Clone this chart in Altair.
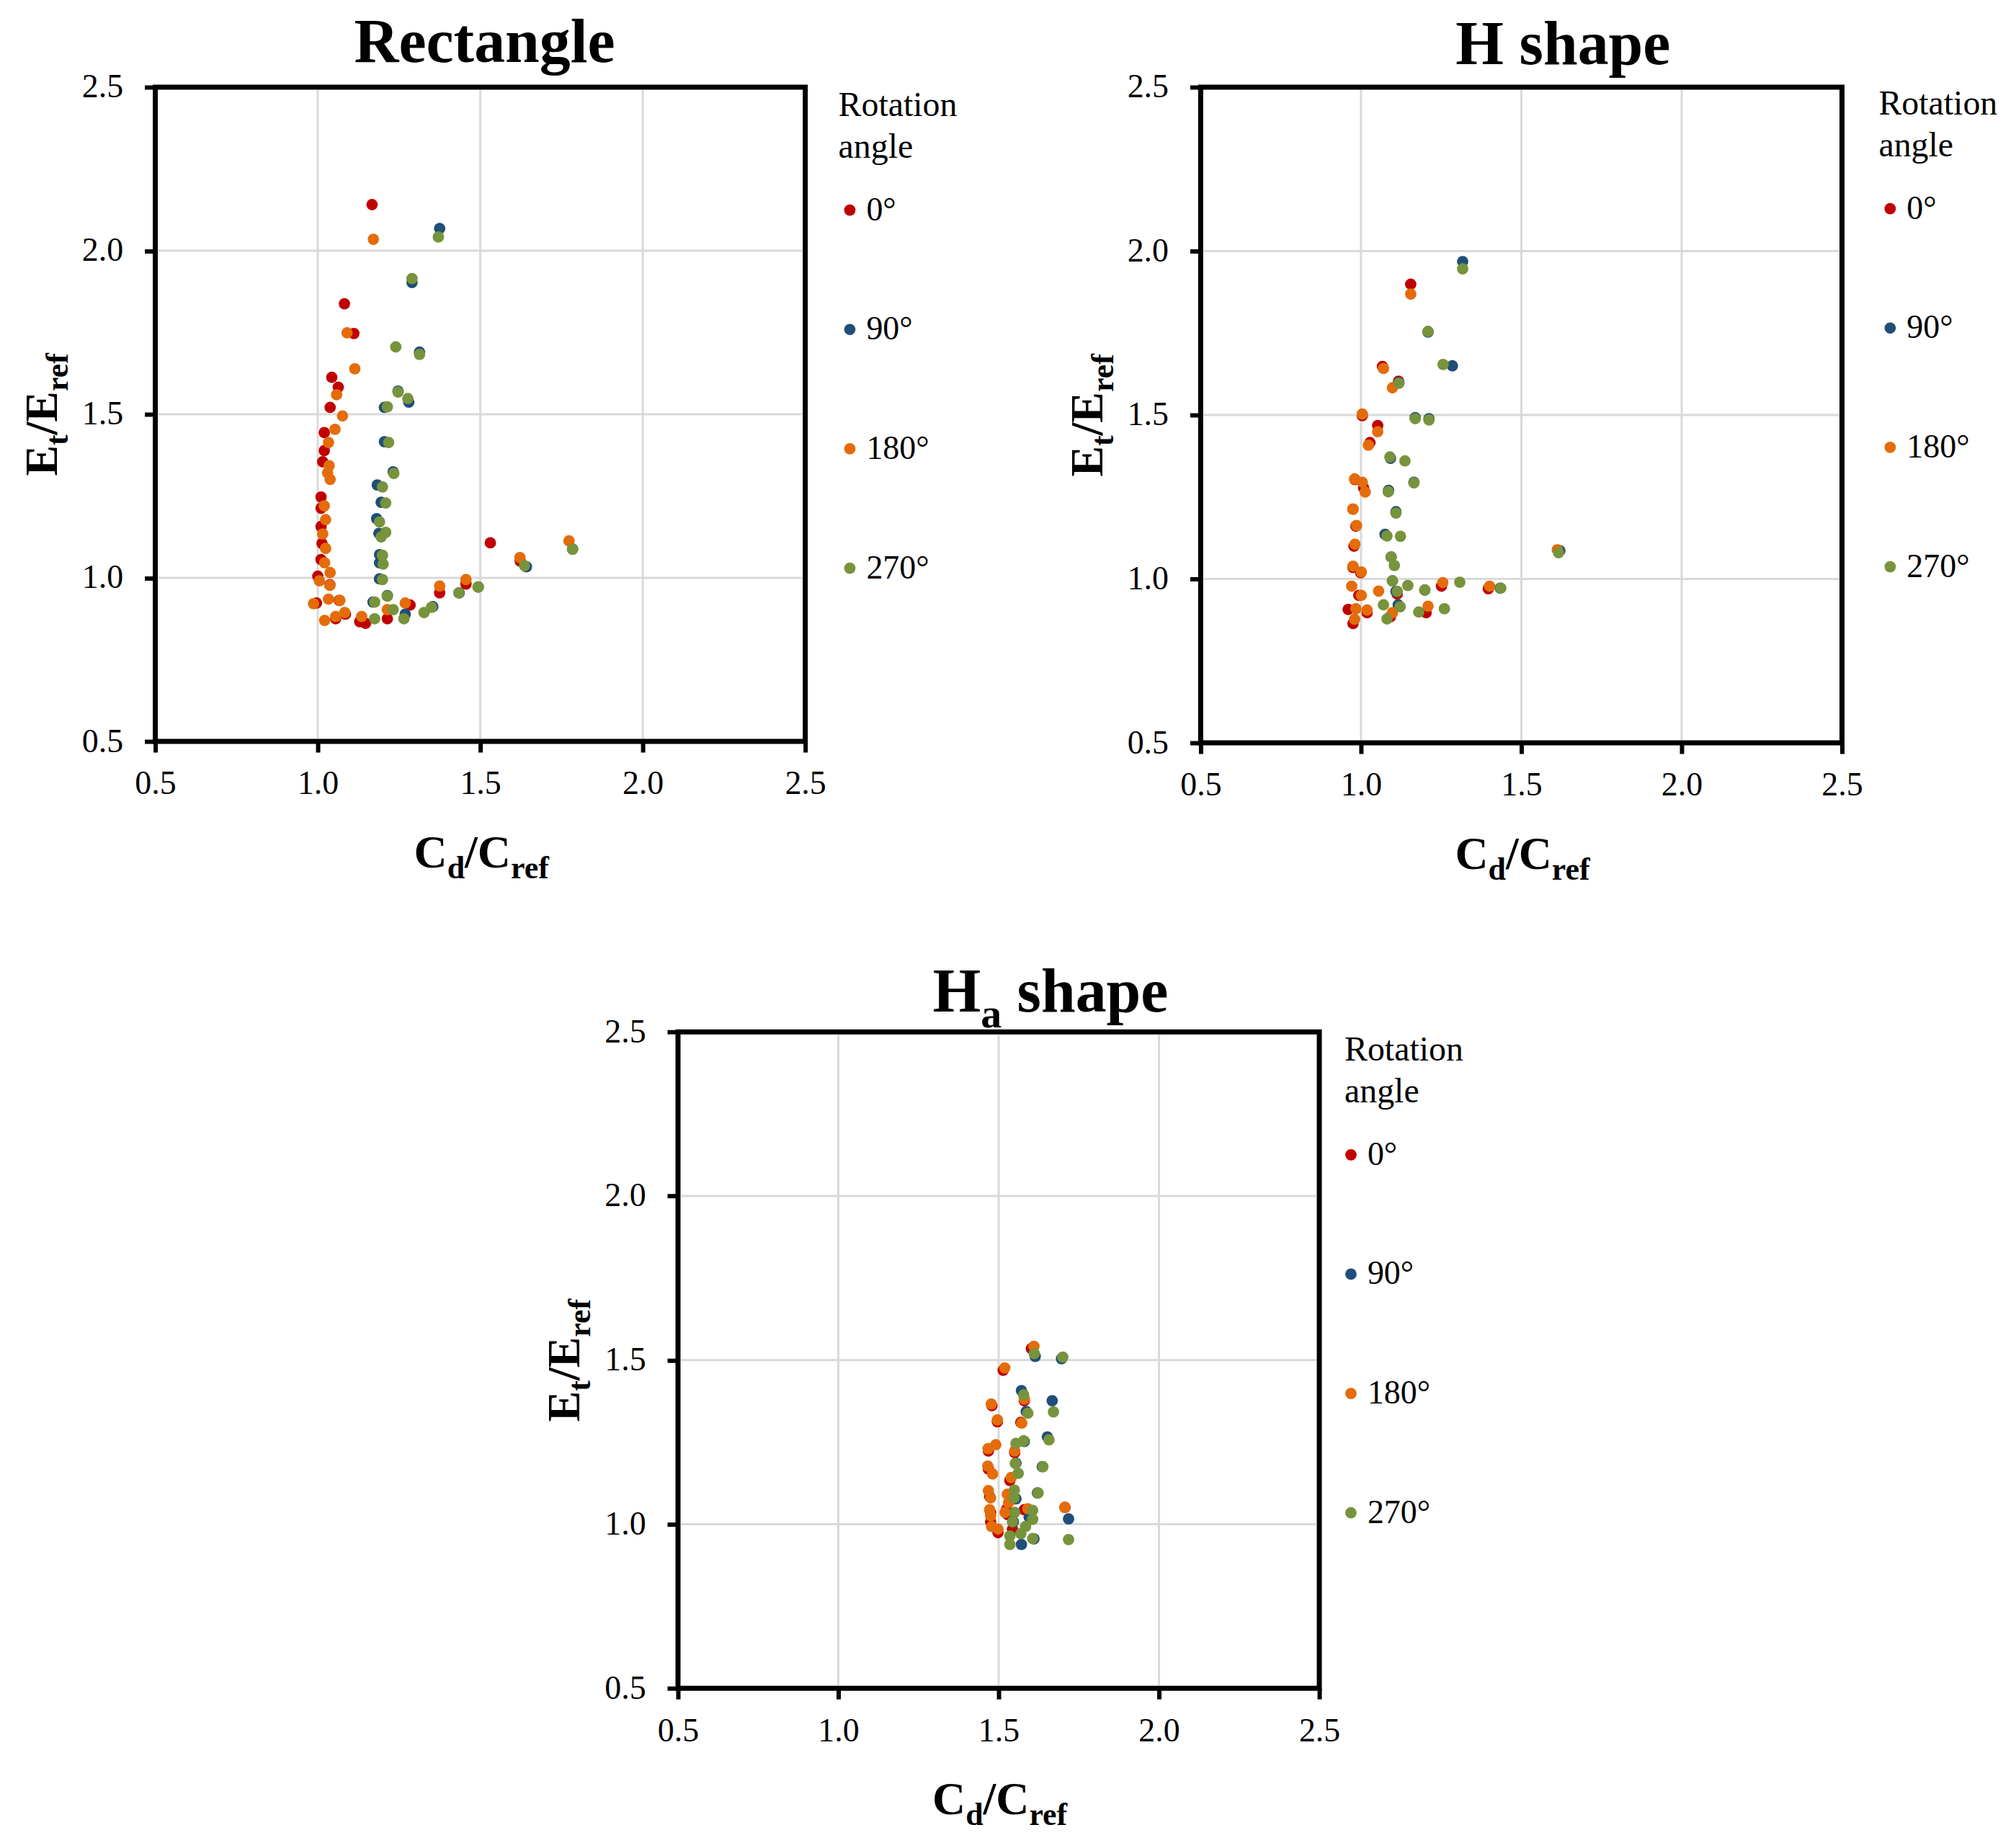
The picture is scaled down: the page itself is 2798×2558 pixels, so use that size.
import altair as alt
import pandas as pd

FONT = "Liberation Serif"
ANGLES = ["0°", "90°", "180°", "270°"]
COLORS = ["#C00000", "#1F4E79", "#E46C0A", "#77933C"]
TICKS = [0.5, 1.0, 1.5, 2.0, 2.5]
GRID = [1.0, 1.5, 2.0]

# ---------------- Rectangle ----------------
rect_0_x = [1.167, 1.082, 1.111, 1.043, 1.063, 1.038, 1.020, 1.020, 1.015, 1.010, 1.010, 1.010, 1.013, 1.010,
            1.000, 1.037, 0.996, 1.066, 1.055, 1.085, 1.129, 1.147, 1.214, 1.284, 1.375, 1.456, 1.531, 1.623]
rect_0_y = [2.141, 1.838, 1.747, 1.613, 1.583, 1.521, 1.444, 1.389, 1.355, 1.247, 1.213, 1.157, 1.105, 1.056,
            1.005, 0.979, 0.923, 0.931, 0.875, 0.889, 0.866, 0.861, 0.875, 0.917, 0.954, 0.981, 1.107, 1.051]
rect_90_x = [1.375, 1.290, 1.313, 1.247, 1.280, 1.205, 1.205, 1.232, 1.183, 1.195, 1.181, 1.188, 1.190, 1.190,
             1.190, 1.214, 1.170, 1.269, 1.354, 1.435, 1.494, 1.642, 1.784]
rect_90_y = [2.068, 1.903, 1.690, 1.571, 1.537, 1.521, 1.416, 1.324, 1.284, 1.231, 1.181, 1.136, 1.071, 1.046,
             0.997, 0.946, 0.926, 0.889, 0.912, 0.954, 0.972, 1.034, 1.088]
rect_180_x = [1.171, 1.090, 1.114, 1.058, 1.076, 1.053, 1.033, 1.035, 1.030, 1.038, 1.020, 1.024, 1.015, 1.024,
              1.021, 1.038, 1.005, 1.037, 0.987, 1.033, 1.068, 1.083, 1.055, 1.021, 1.135, 1.214, 1.269, 1.375,
              1.456, 1.622, 1.773]
rect_180_y = [2.035, 1.749, 1.639, 1.560, 1.495, 1.454, 1.414, 1.343, 1.321, 1.301, 1.220, 1.178, 1.134, 1.090,
              1.046, 1.016, 0.991, 0.977, 0.921, 0.935, 0.931, 0.894, 0.882, 0.870, 0.882, 0.903, 0.923, 0.975,
              0.995, 1.062, 1.113]
rect_270_x = [1.371, 1.290, 1.313, 1.240, 1.247, 1.277, 1.214, 1.218, 1.234, 1.199, 1.209, 1.190, 1.209, 1.195,
              1.199, 1.201, 1.199, 1.214, 1.175, 1.232, 1.175, 1.265, 1.327, 1.350, 1.434, 1.493, 1.636, 1.784]
rect_270_y = [2.042, 1.915, 1.683, 1.706, 1.568, 1.548, 1.523, 1.414, 1.319, 1.278, 1.229, 1.171, 1.139, 1.125,
              1.069, 1.042, 0.995, 0.944, 0.926, 0.903, 0.875, 0.875, 0.894, 0.910, 0.954, 0.972, 1.037, 1.088]

# ---------------- H shape ----------------
h_0_x = [1.155, 1.067, 1.117, 1.004, 1.052, 1.028, 0.981, 1.008, 0.975, 0.984, 0.978, 0.975, 0.999, 0.993,
         0.960, 1.019, 0.975, 1.113, 1.203, 1.251, 1.397, 1.092]
h_0_y = [1.899, 1.648, 1.603, 1.498, 1.468, 1.416, 1.303, 1.278, 1.213, 1.161, 1.100, 1.035, 1.019, 0.950,
         0.907, 0.897, 0.864, 0.954, 0.897, 0.978, 0.970, 0.885]
h_90_x = [1.317, 1.285, 1.209, 1.118, 1.169, 1.212, 1.092, 1.086, 1.165, 1.109, 1.075, 1.094, 1.098, 1.109,
          1.116, 1.199, 1.434, 1.620]
h_90_y = [1.968, 1.650, 1.753, 1.599, 1.492, 1.489, 1.368, 1.270, 1.295, 1.205, 1.136, 1.067, 0.994, 0.962,
          0.921, 0.966, 0.972, 1.086]
h_180_x = [1.155, 1.070, 1.098, 1.004, 1.052, 1.023, 0.980, 1.004, 1.013, 0.975, 0.986, 0.981, 0.975, 1.001,
           0.971, 1.001, 1.055, 0.984, 1.019, 0.980, 1.098, 1.209, 1.255, 1.401, 1.612]
h_180_y = [1.869, 1.642, 1.583, 1.503, 1.449, 1.408, 1.305, 1.295, 1.265, 1.213, 1.163, 1.106, 1.039, 1.021,
           0.978, 0.950, 0.963, 0.909, 0.905, 0.877, 0.897, 0.917, 0.989, 0.978, 1.089]
h_270_x = [1.317, 1.209, 1.256, 1.118, 1.169, 1.212, 1.090, 1.137, 1.165, 1.085, 1.109, 1.081, 1.123, 1.094,
           1.104, 1.098, 1.146, 1.113, 1.199, 1.308, 1.070, 1.122, 1.180, 1.260, 1.081, 1.436, 1.616]
h_270_y = [1.946, 1.755, 1.654, 1.597, 1.489, 1.485, 1.372, 1.360, 1.293, 1.266, 1.201, 1.131, 1.130, 1.067,
           1.041, 0.994, 0.980, 0.962, 0.966, 0.990, 0.921, 0.915, 0.899, 0.909, 0.878, 0.972, 1.080]

# ---------------- Ha shape ----------------
ha_0_x = [1.602, 1.514, 1.479, 1.496, 1.580, 1.569, 1.468, 1.550, 1.468, 1.535, 1.472, 1.475, 1.524, 1.528,
          1.498, 1.475, 1.707, 1.580, 1.543]
ha_0_y = [1.535, 1.469, 1.361, 1.312, 1.376, 1.310, 1.223, 1.218, 1.168, 1.133, 1.084, 1.036, 1.044, 1.029,
          0.974, 1.007, 1.051, 1.044, 0.985]
ha_90_x = [1.614, 1.696, 1.571, 1.667, 1.586, 1.652, 1.580, 1.636, 1.554, 1.621, 1.554, 1.718, 1.571, 1.610,
           1.546, 1.595]
ha_90_y = [1.511, 1.504, 1.407, 1.376, 1.343, 1.266, 1.252, 1.175, 1.186, 1.095, 1.077, 1.016, 0.938, 0.955,
           1.007, 1.022]
ha_180_x = [1.610, 1.519, 1.477, 1.496, 1.580, 1.572, 1.491, 1.467, 1.550, 1.466, 1.481, 1.539, 1.468, 1.475,
            1.527, 1.472, 1.531, 1.475, 1.478, 1.498, 1.591, 1.706, 1.520]
ha_180_y = [1.542, 1.476, 1.366, 1.318, 1.381, 1.308, 1.242, 1.230, 1.223, 1.177, 1.153, 1.142, 1.102, 1.080,
            1.091, 1.044, 1.066, 1.026, 0.993, 0.985, 1.047, 1.051, 1.036]
ha_270_x = [1.611, 1.700, 1.578, 1.671, 1.591, 1.657, 1.578, 1.554, 1.552, 1.561, 1.638, 1.549, 1.548, 1.623,
            1.550, 1.606, 1.606, 1.543, 1.584, 1.535, 1.569, 1.606, 1.535, 1.718]
ha_270_y = [1.520, 1.509, 1.394, 1.342, 1.338, 1.257, 1.254, 1.246, 1.185, 1.155, 1.175, 1.104, 1.080, 1.095,
            1.036, 1.042, 1.015, 1.007, 0.993, 0.964, 0.971, 0.956, 0.938, 0.953]

# Times/Liberation Serif Bold advance widths (per 1000 em)
BOLD_W = {'C': 722, 'd': 556, '/': 278, 'r': 444, 'e': 444, 'f': 333, 'E': 667, 't': 333, 'H': 778,
          ' ': 250, 's': 389, 'h': 556, 'a': 500, 'p': 556, 'R': 722, 'c': 444, 'n': 556, 'g': 500, 'l': 278}

ONE = pd.DataFrame({"k": [0]})


def text_width(s, size):
    return sum(BOLD_W[c] for c in s) * size / 1000.0


def label(s, x, y, size, angle=0):
    return alt.Chart(ONE).mark_text(
        text=s, font=FONT, fontSize=size, fontWeight="bold", align="left",
        baseline="alphabetic", angle=angle, color="black"
    ).encode(x=alt.value(x), y=alt.value(y))


def rich_h(segs, cx, y):
    total = sum(text_width(t, s) for t, s, _ in segs)
    x = cx - total / 2.0
    out = []
    for t, s, dy in segs:
        st = t.lstrip(" ")
        x += text_width(t[:len(t) - len(st)], s)
        out.append(label(st, x, y + dy, s))
        x += text_width(st, s)
    return out


def rich_v(segs, x, cy):
    total = sum(text_width(t, s) for t, s, _ in segs)
    y = cy + total / 2.0
    out = []
    for t, s, dx in segs:
        out.append(label(t, x + dx, y, s, angle=270))
        y -= text_width(t, s)
    return out


def panel(series, w, h, title_segs, title_dx, title_base, leg_x, leg_y, sym_off, lab_off, anchor):
    rows = []
    for k, (xs, ys) in enumerate(series):
        for a, b in zip(xs, ys):
            rows.append({"cd": a, "et": b, "angle": ANGLES[k], "ord": len(rows)})
    df = pd.DataFrame(rows)
    scale = alt.Scale(domain=[0.5, 2.5], nice=False, zero=False)
    common = dict(values=TICKS, format=".1f", title=None, grid=False, domain=False,
                  tickColor="black", tickWidth=6, tickSize=15, labelFont=FONT, labelFontSize=46,
                  labelColor="black", labelFlush=False, labelOverlap=False)
    ax_x = alt.Axis(labelPadding=22, **common)
    ax_y = alt.Axis(labelPadding=30, **common)
    gdf = pd.DataFrame({"g": GRID})
    grid_x = alt.Chart(gdf).mark_rule(color="#D9D9D9", strokeWidth=3).encode(
        x=alt.X("g:Q", scale=scale, axis=ax_x), y=alt.value(4), y2=alt.value(h - 4))
    grid_y = alt.Chart(gdf).mark_rule(color="#D9D9D9", strokeWidth=3).encode(
        y=alt.Y("g:Q", scale=scale, axis=ax_y), x=alt.value(4), x2=alt.value(w - 4))
    legend = alt.Legend(
        orient="none", legendX=leg_x, legendY=leg_y, title=["Rotation", "angle"],
        titleFont=FONT, titleFontSize=48, titleFontWeight="normal", titleColor="black",
        titleLineHeight=58, titlePadding=40, titleAnchor="start", titleAlign="left",
        labelFont=FONT, labelFontSize=46, labelColor="black", labelOffset=lab_off,
        symbolType="circle", symbolSize=250, symbolOffset=sym_off, symbolStrokeWidth=0,
        rowPadding=120, padding=0)
    pts = alt.Chart(df).mark_circle(size=250, opacity=1).encode(
        x=alt.X("cd:Q", scale=scale, axis=ax_x),
        y=alt.Y("et:Q", scale=scale, axis=ax_y),
        color=alt.Color("angle:N", scale=alt.Scale(domain=ANGLES, range=COLORS), sort=ANGLES, legend=legend),
        order=alt.Order("ord:Q"),
    )
    texts = []
    texts += rich_h(title_segs, w / 2.0 + title_dx, title_base)
    texts += rich_h([("C", 64, 0), ("d", 44, 15), ("/C", 64, 0), ("ref", 44, 15)], w / 2.0 + 2, h + 175)
    texts += rich_v([("E", 64, 0), ("t", 44, 15), ("/E", 64, 0), ("ref", 44, 15)], -137, h / 2.0)
    l, t, r, b = anchor
    anc = alt.Chart(ONE).mark_rule(opacity=0, strokeWidth=1).encode(
        x=alt.value(l), y=alt.value(t), x2=alt.value(w + r), y2=alt.value(h + b))
    return alt.layer(grid_x, grid_y, pts, *texts, anc).properties(width=w, height=h)


rect = panel([(rect_0_x, rect_0_y), (rect_90_x, rect_90_y), (rect_180_x, rect_180_y), (rect_270_x, rect_270_y)],
             904, 910, [("Rectangle", 86, 0)], 6, -35, 904 + 46, 2, -7, 0, (-204, -112, 230, 210))
hsh = panel([(h_0_x, h_0_y), (h_90_x, h_90_y), (h_180_x, h_180_y), (h_270_x, h_270_y)],
            892, 912, [("H", 86, 0), (" shape", 86, 0)], 58, -32, 892 + 51, 0, -7, 0, (-200, -108, 230, 210))
hash_ = panel([(ha_0_x, ha_0_y), (ha_90_x, ha_90_y), (ha_180_x, ha_180_y), (ha_270_x, ha_270_y)],
              892, 913, [("H", 86, 0), ("a", 58, 22), (" shape", 86, 0)], 72, -28, 892 + 35, 2, -14, 0,
              (-200, -112, 230, 200))

# invisible spacer that pushes the bottom panel to the right
spacer = alt.Chart(ONE).mark_rule(opacity=0, strokeWidth=1).encode(
    x=alt.value(0), y=alt.value(0), x2=alt.value(519), y2=alt.value(1)
).properties(width=1, height=1, view=alt.ViewBackground(stroke="transparent"))

top = alt.hconcat(rect, hsh, spacing=112).resolve_scale(color="independent").resolve_legend(color="independent")
bottom = alt.hconcat(spacer, hash_, spacing=0).resolve_scale(color="independent").resolve_legend(color="independent")
chart = alt.vconcat(top, bottom, spacing=72).resolve_scale(
    color="independent").resolve_legend(color="independent").properties(
    padding={"left": 0, "top": -5.5, "right": 0, "bottom": 0}, background="white").configure_view(
    stroke="black", strokeWidth=7)

chart.save("out.html", embed_options={"renderer": "svg", "actions": False})
